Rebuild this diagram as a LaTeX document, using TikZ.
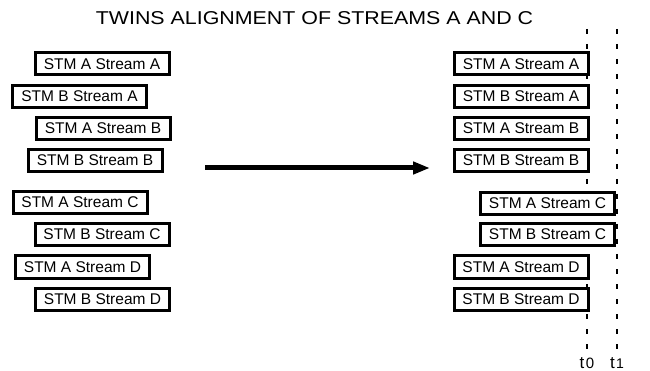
\documentclass[tikz,border=0pt]{standalone}
\usepackage{fontspec}
\setmainfont{Liberation Sans}
\usetikzlibrary{arrows.meta}
\begin{document}
\begin{tikzpicture}[x=1pt,y=-1pt,
  stmbox/.style={draw=black, line width=3pt, fill=white, minimum width=134pt, minimum height=22pt, inner sep=0pt, font=\fontsize{15.5}{18}\selectfont},
  timeline/.style={line width=2.5pt, dash pattern=on 5pt off 10pt, shorten >=5pt},
  tlabel/.style={font=\fontsize{17}{18}\selectfont, inner sep=2pt},
  bigarrow/.style={line width=5pt, -{Triangle[length=17pt,width=12pt]}},
]
\useasboundingbox (0,0) rectangle (650,371);
\node (title) at (314.5,18.5) {\fontsize{18.6}{20}\selectfont\scalebox{1.15}[1]{TWINS ALIGNMENT OF STREAMS A AND C}};

% time lines
\coordinate (t0top) at (587,29);
\coordinate (t1top) at (617,29);
\node[tlabel, anchor=base] (t0lbl) at (587,368) {t\kern1.5pt{\fontsize{15}{15}\selectfont 0}};
\node[tlabel, anchor=base] (t1lbl) at (617,368) {t\kern1.5pt{\fontsize{14}{14}\selectfont 1}};
\draw[timeline] (t0top) -- (t0lbl.north);
\draw[timeline] (t1top) -- (t1lbl.north);

% left group
\node[stmbox] (la1) at (102,64)    {STM A Stream A};
\node[stmbox] (lb1) at (79.5,96.5) {STM B Stream A};
\node[stmbox] (la2) at (103,128.5) {STM A Stream B};
\node[stmbox] (lb2) at (95,160.5)  {STM B Stream B};
\node[stmbox] (la3) at (80,202.5)  {STM A Stream C};
\node[stmbox] (lb3) at (102,234.5) {STM B Stream C};
\node[stmbox] (la4) at (82.5,267)  {STM A Stream D};
\node[stmbox] (lb4) at (102.5,299.5) {STM B Stream D};

% right group
\node[stmbox] (ra1) at (521,64)    {STM A Stream A};
\node[stmbox] (rb1) at (521,96.5)  {STM B Stream A};
\node[stmbox] (ra2) at (521,128.5) {STM A Stream B};
\node[stmbox] (rb2) at (521,160.5) {STM B Stream B};
\node[stmbox] (ra3) at (547.5,203.5) {STM A Stream C};
\node[stmbox] (rb3) at (547.5,234.5) {STM B Stream C};
\node[stmbox] (ra4) at (521,267)   {STM A Stream D};
\node[stmbox] (rb4) at (521,299.5) {STM B Stream D};

% arrow
\coordinate (arrS) at (205,168);
\coordinate (arrE) at (430,168);
\draw[bigarrow] (arrS) -- (arrE);
\end{tikzpicture}
\end{document}
